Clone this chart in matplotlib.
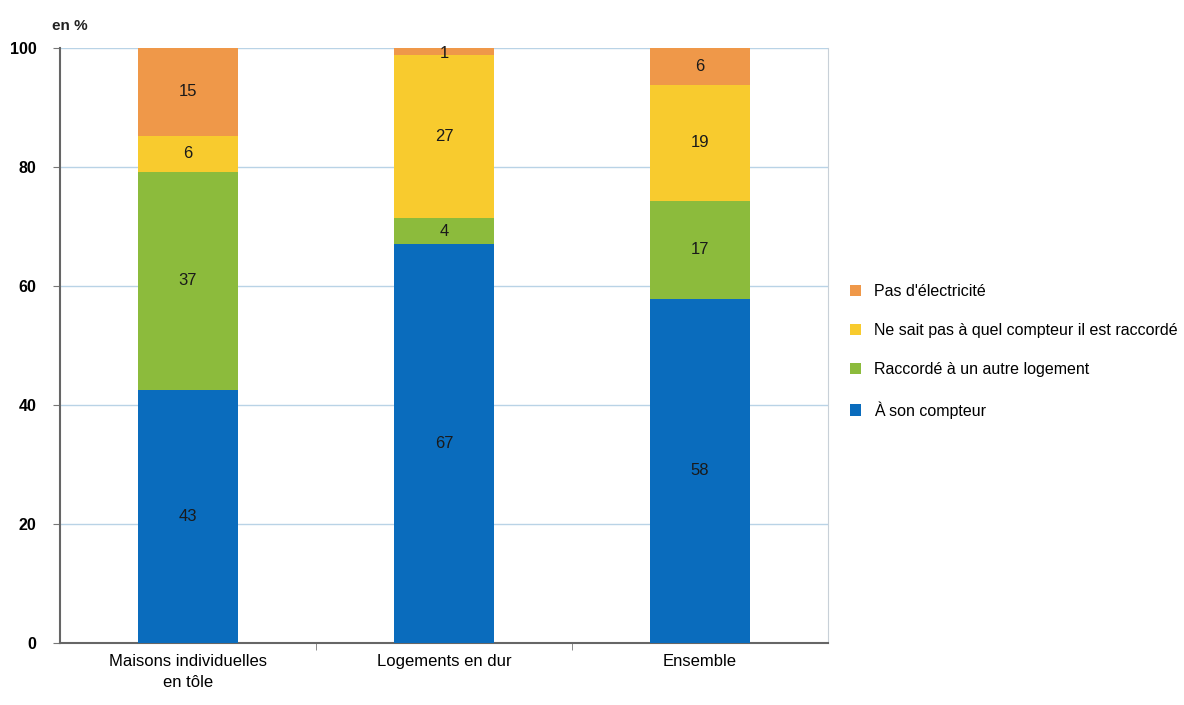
import numpy as np
import matplotlib.pyplot as plt
from matplotlib.ticker import FixedLocator

plt.rcParams['font.family'] = ['Liberation Sans', 'DejaVu Sans']

categories = ['Maisons individuelles\nen tôle', 'Logements en dur', 'Ensemble']
series = ["À son compteur", "Raccordé à un autre logement",
          "Ne sait pas à quel compteur il est raccordé", "Pas d'électricité"]
# heights
son_compteur = [42.5, 67.0, 57.8]
autre_logement = [36.7, 4.4, 16.5]
ne_sait_pas = [6.0, 27.4, 19.5]
pas_elec = [14.8, 1.2, 6.2]
# printed labels
labels = [[43, 67, 58], [37, 4, 17], [6, 27, 19], [15, 1, 6]]
colors = ['#0a6cbd', '#8cbb3c', '#f8cb2e', '#ef9849']

fig = plt.figure(figsize=(11.84, 7.05), dpi=100)
ax = fig.add_axes([0.0507, 0.088, 0.6486, 0.844])

x = np.arange(len(categories))
bottom = np.zeros(len(categories))
handles = []
for vals, lab, c, name in zip([son_compteur, autre_logement, ne_sait_pas, pas_elec],
                              labels, colors, series):
    vals = np.array(vals)
    h = ax.bar(x, vals, 0.39, bottom=bottom, color=c, label=name, zorder=3)
    handles.append(h)
    for xi, b, v, t in zip(x, bottom, vals, lab):
        yc = b + v / 2
        if v < 3:
            yc = b + v / 2 - 0.4
        ax.text(xi, yc, str(t), ha='center', va='center', fontsize=12,
                color='#1a1a1a', zorder=4)
    bottom += vals

ax.set_xlim(-0.5, 2.5)
ax.set_ylim(0, 100)
ax.set_yticks(np.arange(0, 101, 20))
ax.yaxis.grid(True, color='#b9d3e6', linewidth=1, zorder=0)
ax.set_xticks(x)
ax.set_xticklabels(categories, fontsize=12, linespacing=1.5)
ax.xaxis.set_minor_locator(FixedLocator([0.5, 1.5]))
ax.tick_params(axis='x', which='major', length=0, pad=8)
ax.tick_params(axis='x', which='minor', length=5, color='#777777')
ax.tick_params(axis='y', length=5, color='#777777', labelsize=11.5, pad=12)
for lbl in ax.get_yticklabels():
    lbl.set_fontweight('bold')
for s in ['left', 'bottom']:
    ax.spines[s].set_color('#666666')
    ax.spines[s].set_linewidth(1.5)
ax.spines['top'].set_visible(False)
ax.spines['right'].set_color('#c8d0d8')

fig.text(0.044, 0.958, 'en %', fontsize=11, fontweight='bold', color='#222222')

ax.legend(handles[::-1], series[::-1], loc='center left',
          bbox_to_anchor=(1.01, 0.49), frameon=False, fontsize=11.5,
          handlelength=0.7, handleheight=0.7, labelspacing=1.5, handletextpad=0.8)

fig.savefig('out.png', dpi=100)
